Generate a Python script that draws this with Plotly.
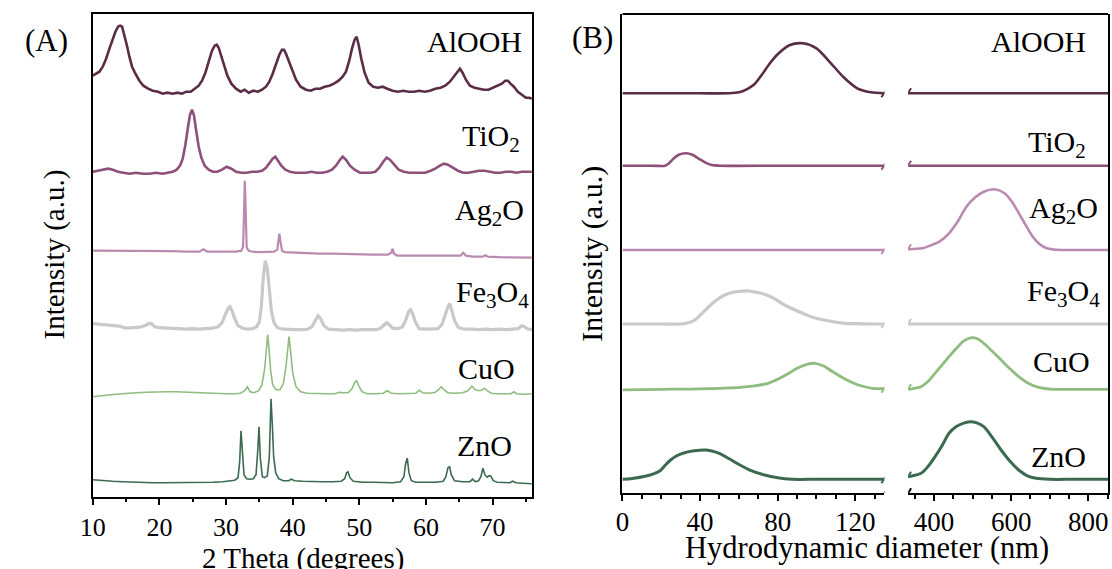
import plotly.graph_objects as go

W, H = 1112, 569
FONT = "Liberation Serif"

# ---------------- Panel A : XRD ----------------
alooh_x = [10.0, 10.5, 11.0, 11.5, 12.0, 12.5, 13.0, 13.4, 13.8, 14.1, 14.4, 14.7, 15.1, 15.5, 15.9, 16.4, 17.0, 17.6, 18.3, 19.0,
           19.8, 20.5, 21.2, 22.0, 22.7, 23.4, 24.0, 24.7, 25.3, 25.9, 26.4, 26.9, 27.4, 27.9, 28.3, 28.6, 28.9, 29.3, 29.7, 30.2,
           30.8, 31.5, 32.2, 32.8, 33.4, 34.1, 34.8, 35.4, 36.0, 36.5, 37.0, 37.5, 38.0, 38.4, 38.7, 39.0, 39.4, 39.9, 40.5, 41.2,
           42.0, 42.7, 43.4, 44.1, 44.8, 45.5, 46.2, 46.9, 47.5, 48.0, 48.5, 48.9, 49.3, 49.6, 49.9, 50.3, 50.8, 51.4, 52.1, 52.8,
           53.5, 54.2, 55.0, 55.8, 56.6, 57.4, 58.2, 59.0, 59.8, 60.6, 61.4, 62.2, 62.9, 63.6, 64.2, 64.7, 65.1, 65.5, 66.0, 66.6,
           67.3, 68.0, 68.7, 69.4, 70.1, 70.8, 71.4, 71.9, 72.3, 72.7, 73.2, 73.8, 74.4, 75.0, 75.5, 75.9]
alooh_y = [421, 423, 425, 430, 438, 448, 458, 465, 470, 471, 470, 463, 452, 440, 430, 423, 416, 411, 408, 406,
           405, 403, 404, 403, 404, 403, 405, 405, 408, 411, 416, 424, 435, 446, 451, 452, 449, 441, 431, 421,
           413, 408, 405, 407, 404, 406, 405, 407, 410, 415, 423, 433, 442, 447, 447, 443, 436, 426, 417, 410,
           407, 406, 408, 408, 410, 411, 413, 416, 420, 425, 436, 448, 457, 460, 452, 438, 424, 414, 410, 409,
           410, 408, 406, 405, 406, 405, 405, 406, 405, 406, 408, 409, 411, 415, 420, 425, 428, 424, 417, 411,
           409, 408, 407, 407, 409, 411, 413, 416, 416, 413, 410, 405, 402, 399, 399, 398]

tio2_x = [10.0, 10.8, 11.6, 12.3, 13.0, 13.8, 14.6, 15.5, 16.5, 17.5, 18.5, 19.5, 20.5, 21.3, 22.0, 22.6, 23.1, 23.5, 23.9, 24.3,
          24.6, 24.9, 25.2, 25.5, 25.9, 26.3, 26.8, 27.4, 28.0, 28.7, 29.4, 30.1, 30.8, 31.5, 32.3, 33.1, 33.9, 34.7, 35.4, 36.0,
          36.5, 37.0, 37.4, 37.8, 38.3, 38.9, 39.6, 40.4, 41.2, 42.0, 42.8, 43.6, 44.4, 45.2, 45.9, 46.5, 47.0, 47.5, 48.0, 48.6,
          49.3, 50.1, 50.9, 51.7, 52.4, 53.0, 53.6, 54.1, 54.6, 55.2, 55.9, 56.7, 57.5, 58.3, 59.1, 59.9, 60.7, 61.4, 62.1, 62.7,
          63.3, 64.0, 64.8, 65.6, 66.4, 67.2, 68.0, 68.8, 69.6, 70.4, 71.2, 72.0, 72.8, 73.6, 74.4, 75.2, 75.9]
tio2_y = [325, 326, 327, 328, 327, 325, 324, 323, 324, 323, 323, 324, 323, 324, 325, 327, 331, 338, 352, 370,
          382, 387, 381, 367, 350, 339, 331, 327, 325, 325, 327, 330, 328, 325, 324, 324, 325, 325, 326, 329,
          333, 338, 340, 336, 331, 327, 325, 324, 324, 324, 325, 324, 324, 325, 327, 331, 336, 340, 337, 331,
          327, 324, 324, 324, 325, 329, 335, 339, 337, 332, 327, 325, 324, 324, 324, 324, 326, 328, 331, 333,
          332, 329, 326, 324, 324, 325, 326, 326, 325, 324, 324, 325, 325, 324, 325, 325, 325]

ag2o_x = [10.0, 12.0, 14.0, 16.0, 18.0, 20.0, 22.0, 24.0, 26.0, 26.6, 27.2, 28.0, 30.0, 31.5, 32.3, 32.55, 32.65, 32.75, 32.82,
          32.9, 33.0, 33.1, 33.4, 34.0, 35.0, 36.0, 37.2, 37.7, 37.9, 38.0, 38.15, 38.4, 38.8, 40.0, 42.0, 44.0, 46.0, 48.0, 50.0,
          52.0, 54.3, 54.8, 55.0, 55.2, 55.7, 58.0, 60.0, 62.0, 64.0, 65.2, 65.6, 66.0, 67.0, 68.5, 68.9, 69.3, 71.0, 73.0, 75.9]
ag2o_y = [246, 246, 246, 245.5, 246, 245.5, 245.5, 245, 245, 247.5, 245, 245, 245, 245, 246, 250, 270, 312, 316,
          300, 262, 249, 246, 245, 244.5, 244.5, 245, 247, 258, 263, 256, 246, 244.5, 244, 243.5, 243, 243, 242.5, 242,
          242, 242, 244, 248, 243, 241, 241, 241, 240.5, 240.5, 241, 244, 241, 240, 240, 241.5, 240, 239.5, 239.5, 239]

fe3o4_x = [10.0, 11.0, 12.0, 13.0, 14.0, 15.0, 16.0, 17.0, 17.8, 18.4, 18.8, 19.3, 20.0, 21.0, 22.0, 23.0, 24.0, 25.0, 26.0, 27.0,
           28.0, 28.8, 29.4, 29.9, 30.3, 30.6, 30.9, 31.3, 31.8, 32.5, 33.3, 34.0, 34.6, 35.0, 35.3, 35.6, 35.9, 36.2, 36.5, 36.8,
           37.2, 37.7, 38.5, 39.5, 40.5, 41.5, 42.3, 42.9, 43.4, 43.8, 44.2, 44.7, 45.4, 46.5, 47.5, 48.5, 49.5, 50.5, 51.5, 52.5,
           53.2, 53.7, 54.1, 54.5, 55.0, 55.8, 56.5, 57.0, 57.4, 57.7, 58.0, 58.4, 59.0, 60.0, 61.0, 61.8, 62.4, 62.9, 63.3, 63.6,
           63.9, 64.3, 64.9, 65.8, 67.0, 68.0, 69.0, 70.0, 71.0, 72.0, 73.0, 73.8, 74.4, 74.8, 75.2, 75.9]
fe3o4_y = [173, 172.5, 171.5, 171, 170.5, 168.5, 169, 169.5, 171, 173, 173, 170, 169, 168.5, 168, 168, 167.5, 168, 167.5, 168,
           168.5, 170, 174, 182, 188, 190, 186, 178, 171, 168.5, 167.5, 168, 170, 175, 190, 220, 236, 228, 205, 186,
           174, 169, 167.5, 167, 167, 167, 167.5, 170, 177, 181, 178, 171, 167.5, 167, 166.5, 167, 166.5, 167, 167, 167,
           168.5, 171, 174, 172, 168.5, 168, 170, 177, 185, 187, 183, 175, 168, 167.5, 167.5, 168, 172, 181, 190, 193,
           186, 176, 169, 167.5, 167.5, 167, 167.5, 167, 167.5, 167, 167.5, 168, 171, 170, 168, 167]

cuo_x = [10.0, 11.0, 12.0, 13.5, 15.0, 16.5, 18.0, 19.5, 21.0, 22.5, 24.0, 25.5, 27.0, 28.5, 30.0, 31.2, 32.2, 32.8, 33.2, 33.6,
         34.2, 34.9, 35.4, 35.8, 36.05, 36.25, 36.45, 36.7, 37.0, 37.5, 38.1, 38.6, 39.0, 39.25, 39.45, 39.7, 40.0, 40.5, 41.2, 42.2,
         43.5, 45.0, 46.3, 47.0, 47.6, 48.3, 48.9, 49.3, 49.6, 49.9, 50.4, 51.2, 52.5, 53.6, 54.2, 54.8, 56.0, 57.5, 58.5, 59.0,
         59.5, 60.5, 61.4, 61.9, 62.3, 62.7, 63.3, 64.3, 65.5, 66.3, 66.9, 67.4, 68.0, 68.5, 68.8, 69.2, 69.8, 70.8, 72.0, 72.8,
         73.2, 73.6, 74.6, 75.9]
cuo_y = [100, 101, 101.5, 102.5, 103.5, 104, 104.5, 105, 105, 105, 104.5, 104, 104, 103.5, 103, 103, 103.5, 106, 110, 105,
         104, 106, 112, 128, 150, 162, 148, 126, 112, 107, 107, 113, 130, 152, 160, 145, 124, 110, 105, 103.5,
         103, 103, 103, 104.5, 104, 104, 108, 114, 116, 111, 105, 103, 103, 103.5, 106, 103.5, 103, 103, 103.5, 106.5,
         104, 103.5, 104.5, 107, 110, 107, 104, 103.5, 104, 106, 110.5, 107, 106, 107, 108.5, 106, 103.5, 103, 103, 103,
         105, 103, 102.5, 103]

zno_x = [10.0, 11.5, 13.0, 14.5, 16.0, 17.5, 19.0, 20.5, 22.0, 23.5, 25.0, 26.5, 28.0, 29.5, 30.5, 31.3, 31.8, 32.05, 32.25, 32.45,
         32.7, 33.1, 33.6, 34.1, 34.5, 34.75, 34.95, 35.15, 35.45, 35.8, 36.2, 36.5, 36.75, 36.95, 37.15, 37.45, 37.9, 38.6, 39.4, 39.8,
         40.3, 41.5, 43.0, 44.5, 46.0, 47.3, 47.8, 48.1, 48.3, 48.6, 49.1, 50.5, 52.0, 53.5, 55.0, 56.2, 56.7, 56.95, 57.2, 57.45,
         57.8, 58.5, 60.0, 61.5, 62.6, 63.0, 63.3, 63.55, 63.8, 64.3, 65.5, 66.6, 67.0, 67.4, 67.9, 68.25, 68.55, 68.85, 69.2, 69.5,
         69.75, 70.1, 70.7, 71.8, 72.6, 73.0, 73.5, 74.5, 75.9]
zno_y = [17, 16, 15.5, 15, 14.5, 14.5, 14, 14, 14, 14, 14, 14, 14.5, 15, 15.5, 16.5, 19, 35, 66, 40,
         22, 18, 17.5, 18, 22, 45, 70, 38, 20, 19, 21, 40, 98, 72, 40, 24, 18, 16, 16, 17.5,
         16, 15.5, 15, 15, 15, 15.5, 18, 24, 25, 19, 15.5, 14.5, 14.5, 14, 14, 15, 20, 33, 38.5, 24,
         16, 14.5, 14.5, 14.5, 15.5, 20, 29, 30, 22, 16, 15, 15, 17.5, 15, 16, 20, 28.5, 22, 19.5, 21,
         20.5, 16, 14.5, 14, 14, 15.5, 14, 13.5, 13]

# ---------------- Panel B : DLS (broken axis) ----------------
b_alooh_lx = [0, 20, 40, 55, 60, 64, 68, 72, 76, 80, 86, 93, 100, 107, 114, 121, 128, 135]
b_alooh_ly = [400, 400, 400, 400, 401, 404, 409, 419, 430, 439, 448, 450, 445, 431, 416, 405, 401, 400]
b_alooh_rx = [333, 500, 700, 851]
b_alooh_ry = [400, 400, 400, 400]

b_tio2_lx = [0, 15, 22, 24, 26.5, 29, 32.8, 36, 39, 42.5, 46, 50, 80, 110, 135]
b_tio2_ly = [327.6, 327.6, 327.6, 330, 335, 338.5, 340, 338.5, 335, 331, 328.3, 327.6, 327.6, 327.6, 327.6]
b_tio2_rx = [333, 500, 700, 851]
b_tio2_ry = [327.6, 327.6, 327.6, 327.6]

b_ag2o_lx = [0, 40, 80, 135]
b_ag2o_ly = [243.3, 243.3, 243.3, 243.3]
b_ag2o_rx = [333, 370, 394, 415, 439, 462, 484, 507, 529, 556, 583, 601, 620, 638, 656, 674, 692, 710, 728, 760, 851]
b_ag2o_ry = [244, 245, 248.3, 252, 260, 272, 286.6, 296, 301.6, 304, 300, 292, 280, 268, 256.6, 249, 245, 243.8, 243.3, 243.3, 243.3]

b_fe3o4_lx = [0, 20, 30, 33, 37.3, 41, 44.5, 48, 51.7, 55, 58.9, 62, 65.1, 69, 73.2, 78, 82.1, 87, 92.9, 98, 103.7, 109, 114.4, 120, 128, 135]
b_fe3o4_ly = [169.3, 169.3, 169.3, 170, 173.3, 180, 186.6, 192.5, 197.3, 200, 201.6, 202.2, 202.3, 201, 199, 195, 190, 185, 180, 176, 173.3, 171.5, 170, 169.6, 169.3, 169.3]
b_fe3o4_rx = [333, 500, 700, 851]
b_fe3o4_ry = [169.3, 169.3, 169.3, 169.3]

b_cuo_lx = [0, 20, 40, 60.6, 68, 75, 80, 85.8, 90, 95, 99.2, 103.7, 108, 112.6, 117, 121.6, 128.8, 135]
b_cuo_ly = [103.5, 104, 104.5, 106, 107.5, 110, 114, 120, 125, 129, 130, 127.3, 122, 116.6, 112, 108.3, 105, 104.6]
b_cuo_rx = [333, 366.7, 385, 402.8, 420, 439, 457, 475, 488, 502, 515, 529, 551, 574, 597, 619.5, 642, 664.6, 687, 709.7, 760, 851]
b_cuo_ry = [104, 106.6, 112, 120, 128, 136.6, 144.5, 151.6, 154.5, 155.6, 154, 150, 142, 133.3, 124.5, 116.6, 110.5, 106.6, 104.8, 104, 104, 104]

b_zno_lx = [0, 5, 12.2, 16, 19.4, 22, 24.8, 28, 32, 37, 42.7, 46, 49.9, 55, 60.6, 66, 73.2, 80, 87.5, 100, 120, 135]
b_zno_ly = [14, 14.8, 17.3, 19.5, 22.6, 28, 33.3, 37.5, 40.6, 42.5, 43.3, 42.3, 40, 34.5, 28.3, 23, 18.3, 15.5, 14, 14, 14, 14]
b_zno_rx = [333, 366.7, 385, 402.8, 420, 439, 457, 475, 493, 511, 529, 551, 574, 597, 619.5, 642, 664.6, 700, 760, 851]
b_zno_ry = [16.6, 20, 27, 36.6, 47, 60, 66.5, 70, 71.6, 70.5, 66.6, 56, 43.3, 32, 23.3, 17.5, 15, 14, 14, 14]

names = ["AlOOH", "TiO<sub>2</sub>", "Ag<sub>2</sub>O", "Fe<sub>3</sub>O<sub>4</sub>", "CuO", "ZnO"]
colors = ["#5b2c45", "#8e4f78", "#b98bb0", "#c9c9c9", "#8fbc7f", "#3b6a4f"]
widths_a = [2.6, 2.6, 2.2, 3.2, 1.6, 1.6]
widths_b = [2.6, 2.6, 2.6, 3.2, 2.8, 3.0]

xa_ticks = [10, 20, 30, 40, 50, 60, 70]
xb_left_ticks = [0, 40, 80, 120]
xb_right_ticks = [400, 600, 800]

A_x = [alooh_x, tio2_x, ag2o_x, fe3o4_x, cuo_x, zno_x]
A_y = [alooh_y, tio2_y, ag2o_y, fe3o4_y, cuo_y, zno_y]
B_lx = [b_alooh_lx, b_tio2_lx, b_ag2o_lx, b_fe3o4_lx, b_cuo_lx, b_zno_lx]
B_ly = [b_alooh_ly, b_tio2_ly, b_ag2o_ly, b_fe3o4_ly, b_cuo_ly, b_zno_ly]
B_rx = [b_alooh_rx, b_tio2_rx, b_ag2o_rx, b_fe3o4_rx, b_cuo_rx, b_zno_rx]
B_ry = [b_alooh_ry, b_tio2_ry, b_ag2o_ry, b_fe3o4_ry, b_cuo_ry, b_zno_ry]


def px(x):
    return x / W


def py(y):
    return 1 - y / H


fig = go.Figure()
for i in range(6):
    fig.add_trace(go.Scatter(x=A_x[i], y=A_y[i], mode="lines", xaxis="x", yaxis="y",
                             line=dict(color=colors[i], width=widths_a[i]), showlegend=False, hoverinfo="skip"))
    fig.add_trace(go.Scatter(x=B_lx[i], y=B_ly[i], mode="lines", xaxis="x2", yaxis="y2",
                             line=dict(color=colors[i], width=widths_b[i], shape="spline", smoothing=0.8),
                             showlegend=False, hoverinfo="skip"))
    fig.add_trace(go.Scatter(x=B_rx[i], y=B_ry[i], mode="lines", xaxis="x3", yaxis="y3",
                             line=dict(color=colors[i], width=widths_b[i], shape="spline", smoothing=0.8),
                             showlegend=False, hoverinfo="skip"))

axis_common = dict(showgrid=False, zeroline=False, showline=True, linecolor="black", linewidth=2,
                   ticks="outside", ticklen=6, tickwidth=2, tickcolor="black")
yaxis_common = dict(showgrid=False, zeroline=False, showline=True, linecolor="black", linewidth=2,
                    ticks="", showticklabels=False)
tickfontA = dict(family=FONT, size=26, color="black")
tickfontB = dict(family=FONT, size=27, color="black")

ydomA = [py(496.7), py(14)]
ydomB = [py(493.3), py(14)]

fig.update_layout(
    width=W, height=H, autosize=False,
    margin=dict(l=0, r=0, t=0, b=0),
    paper_bgcolor="white", plot_bgcolor="white",
    font=dict(family=FONT, color="black"),
    xaxis=dict(domain=[px(80.7), px(525)], range=[10, 75.9], anchor="y", mirror=True,
               tickvals=xa_ticks, ticktext=[str(v) for v in xa_ticks], tickfont=tickfontA,
               minor=dict(tickvals=[15, 25, 35, 45, 55, 65, 75], ticks="outside", ticklen=3.5, tickwidth=2,
                          tickcolor="black", showgrid=False),
               **axis_common),
    yaxis=dict(domain=ydomA, range=[0, 482.7], anchor="x", mirror=True, **yaxis_common),
    xaxis2=dict(domain=[px(616.7), px(881.7)], range=[0, 135], anchor="y2",
                tickvals=xb_left_ticks, ticktext=[str(v) for v in xb_left_ticks], tickfont=tickfontB,
                ticklabelstandoff=-3,
                minor=dict(tickvals=[10, 20, 30, 50, 60, 70, 90, 100, 110, 130], ticks="outside", ticklen=4,
                           tickwidth=2, tickcolor="black", showgrid=False),
                **axis_common),
    yaxis2=dict(domain=ydomB, range=[0, 479.3], anchor="x2", **yaxis_common),
    xaxis3=dict(domain=[px(905.7), px(1108)], range=[333, 851], anchor="y3",
                tickvals=xb_right_ticks, ticktext=[str(v) for v in xb_right_ticks], tickfont=tickfontB,
                ticklabelstandoff=-3,
                minor=dict(tickvals=[350, 450, 500, 550, 650, 700, 750, 850], ticks="outside", ticklen=4,
                           tickwidth=2, tickcolor="black", showgrid=False),
                **axis_common),
    yaxis3=dict(domain=ydomB, range=[0, 479.3], anchor="x3", side="right", **yaxis_common),
)

shapes = []
# continuous top border of panel B
shapes.append(dict(type="line", xref="paper", yref="paper", x0=px(616.7), x1=px(1108), y0=ydomB[1], y1=ydomB[1],
                   line=dict(color="black", width=2)))
# axis-break marks on the bottom axis
for xr, yr, xa in (("x2", "y2", 135), ("x3", "y3", 333)):
    shapes.append(dict(type="line", xref=xr, yref=yr, xsizemode="pixel", ysizemode="pixel",
                       xanchor=xa, yanchor=0, x0=-3, x1=3, y0=-5, y1=5,
                       line=dict(color="black", width=2)))
# break marks on each curve
for i in range(6):
    shapes.append(dict(type="line", xref="x2", yref="y2", xsizemode="pixel", ysizemode="pixel",
                       xanchor=B_lx[i][-1], yanchor=B_ly[i][-1], x0=-3, x1=3, y0=-4, y1=5,
                       line=dict(color=colors[i], width=2)))
    shapes.append(dict(type="line", xref="x3", yref="y3", xsizemode="pixel", ysizemode="pixel",
                       xanchor=B_rx[i][0], yanchor=B_ry[i][0], x0=-3, x1=3, y0=-4, y1=5,
                       line=dict(color=colors[i], width=2)))
fig.update_layout(shapes=shapes)

ann = []
labfont = dict(family=FONT, size=30, color="black")
a_right = [517, 515.5, 519, 524, 509.7, 507]
a_mid = [41.7, 137.5, 211.7, 294, 368, 445]
b_right = [1088, 1088, 1100, 1102, 1091.5, 1088]
b_mid = [41.7, 144, 210, 292.5, 361.7, 456]
for i in range(6):
    ann.append(dict(text=names[i], xref="paper", yref="paper", x=px(a_right[i]), y=py(a_mid[i]),
                    xanchor="right", yanchor="middle", showarrow=False, font=labfont))
    ann.append(dict(text=names[i], xref="paper", yref="paper", x=px(b_right[i]), y=py(b_mid[i]),
                    xanchor="right", yanchor="middle", showarrow=False, font=labfont))

ann.append(dict(text="2 Theta (degrees)", xref="paper", yref="paper", x=px(293), y=py(558),
                xanchor="center", yanchor="middle", showarrow=False,
                font=dict(family=FONT, size=29, color="black")))
ann.append(dict(text="Hydrodynamic diameter (nm)", xref="paper", yref="paper", x=px(864), y=py(547.5),
                xanchor="center", yanchor="middle", showarrow=False,
                font=dict(family=FONT, size=30.5, color="black")))
ann.append(dict(text="Intensity (a.u.)", xref="paper", yref="paper", x=px(41), y=py(255),
                xanchor="center", yanchor="middle", textangle=-90, showarrow=False,
                font=dict(family=FONT, size=29, color="black")))
ann.append(dict(text="Intensity (a.u.)", xref="paper", yref="paper", x=px(585), y=py(253.5),
                xanchor="center", yanchor="middle", textangle=-90, showarrow=False,
                font=dict(family=FONT, size=30, color="black")))
panelfont = dict(family=FONT, size=31, color="black")
ann.append(dict(text="(A)", xref="paper", yref="paper", x=px(33.5), y=py(40),
                xanchor="center", yanchor="middle", showarrow=False, font=panelfont))
ann.append(dict(text="(B)", xref="paper", yref="paper", x=px(586), y=py(38),
                xanchor="center", yanchor="middle", showarrow=False, font=panelfont))
fig.update_layout(annotations=ann)

fig.write_html("out.html", config={"displayModeBar": False},
               post_script="document.body.style.margin='0';document.body.style.overflow='hidden';"
                           "document.documentElement.style.overflow='hidden';")
